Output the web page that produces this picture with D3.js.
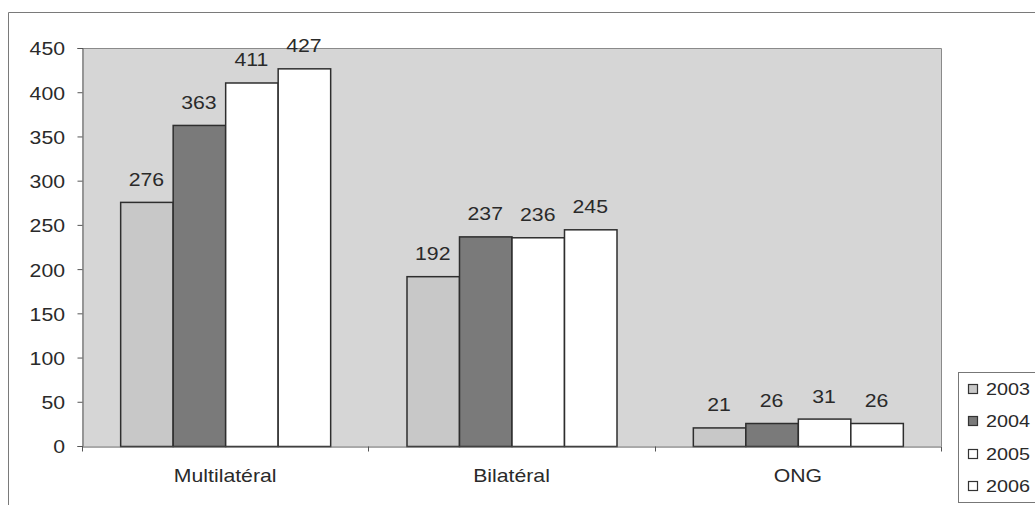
<!DOCTYPE html>
<html>
<head>
<meta charset="utf-8">
<script src="https://cdn.jsdelivr.net/npm/d3@7"></script>
<style>
  html, body { margin: 0; padding: 0; background: #fff; }
  svg { display: block; font-family: "Liberation Sans", Arial, sans-serif; }
</style>
</head>
<body>
<svg id="chart" width="1035" height="505"></svg>
<script>
// Aid channels and yearly amounts
const categories = ["Multilatéral", "Bilatéral", "ONG"];
const years = ["2003", "2004", "2005", "2006"];
const values2003 = [276, 192, 21];
const values2004 = [363, 237, 26];
const values2005 = [411, 236, 31];
const values2006 = [427, 245, 26];
const yTicks = [0, 50, 100, 150, 200, 250, 300, 350, 400, 450];

const seriesValues = [values2003, values2004, values2005, values2006];
const fills = ["#c8c8c8", "#7a7a7a", "#ffffff", "#ffffff"];

const svg = d3.select("#chart");
const plot = { left: 82, right: 941, top: 48, bottom: 446 };
const sx = 1.18; // horizontal stretch of the lettering

// outer frame (top and left edges)
svg.append("path")
  .attr("d", "M8.5,505 L8.5,12.5 L1035,12.5")
  .attr("fill", "none").attr("stroke", "#7a7a7a").attr("stroke-width", 1);

const x0 = d3.scaleBand().domain(categories).range([plot.left, plot.right]).paddingInner(0).paddingOuter(0);
const groupW = 210;
const x1 = d3.scaleBand().domain(years).range([0, groupW]).padding(0);
const y = d3.scaleLinear().domain([0, 450]).range([plot.bottom, plot.top]);

// plot area background
svg.append("rect")
  .attr("x", plot.left).attr("y", plot.top)
  .attr("width", plot.right - plot.left).attr("height", plot.bottom - plot.top)
  .attr("fill", "#d6d6d6");
svg.append("path")
  .attr("d", `M${plot.left},${plot.top + 0.5} L${plot.right + 0.5},${plot.top + 0.5} L${plot.right + 0.5},${plot.bottom}`)
  .attr("fill", "none").attr("stroke", "#8a8a8a");

// bars
const bars = [];
categories.forEach((c, ci) => {
  years.forEach((yr, si) => {
    bars.push({ cat: c, year: yr, si, v: seriesValues[si][ci] });
  });
});
const gx = c => x0(c) + (x0.bandwidth() - groupW) / 2;

svg.append("g").selectAll("rect").data(bars).join("rect")
  .attr("x", d => gx(d.cat) + x1(d.year) + 0.5)
  .attr("y", d => y(d.v) + 0.5)
  .attr("width", x1.bandwidth())
  .attr("height", d => y(0) - y(d.v))
  .attr("fill", d => fills[d.si])
  .attr("stroke", "#2e2e2e").attr("stroke-width", 1.5);

// value labels
const stretchedText = (sel, size) => sel
  .attr("font-size", size)
  .attr("fill", "#2a2a2a");

stretchedText(svg.append("g").selectAll("text").data(bars).join("text"), 18)
  .attr("text-anchor", "middle")
  .attr("transform", d => `translate(${gx(d.cat) + x1(d.year) + x1.bandwidth() / 2},${y(d.v) - 16}) scale(${sx},1)`)
  .text(d => d.v);

// y axis
const yAxis = svg.append("g").attr("transform", `translate(${plot.left + 0.5},0)`)
  .call(d3.axisLeft(y).tickValues(yTicks).tickSize(5).tickPadding(0).tickFormat(() => ""));
yAxis.select(".domain").attr("stroke", "#555");
yAxis.selectAll(".tick line").attr("stroke", "#555");
stretchedText(svg.append("g").selectAll("text").data(yTicks).join("text"), 18)
  .attr("text-anchor", "end")
  .attr("dominant-baseline", "central")
  .attr("transform", d => `translate(65,${y(d) + 1}) scale(${sx},1)`)
  .text(d => d);

// x axis
const xAxis = svg.append("g").attr("transform", `translate(0,${plot.bottom + 0.5})`)
  .call(d3.axisBottom(x0).tickSize(0).tickFormat(() => ""));
xAxis.select(".domain").attr("stroke", "#555");
xAxis.selectAll(".tick line").remove();
const bounds = categories.map(c => x0(c)).concat([plot.right]);
xAxis.selectAll("line.sep").data(bounds).join("line").attr("class", "sep")
  .attr("x1", d => Math.round(d) + 0.5).attr("x2", d => Math.round(d) + 0.5)
  .attr("y1", 0).attr("y2", 5).attr("stroke", "#555");
stretchedText(svg.append("g").selectAll("text").data(categories).join("text"), 18)
  .attr("text-anchor", "middle")
  .attr("transform", d => `translate(${x0(d) + x0.bandwidth() / 2},482) scale(${sx},1)`)
  .text(d => d);

// legend
const legend = svg.append("g");
legend.append("rect")
  .attr("x", 958.5).attr("y", 372.5).attr("width", 90).attr("height", 130)
  .attr("fill", "#fff").attr("stroke", "#777");
const legendY = [389, 421, 454, 486];
years.forEach((yr, i) => {
  legend.append("rect")
    .attr("x", 968.5).attr("y", legendY[i] - 4.5).attr("width", 9).attr("height", 9)
    .attr("fill", fills[i]).attr("stroke", "#333").attr("stroke-width", 1.2);
  stretchedText(legend.append("text"), 16.5)
    .attr("dominant-baseline", "central")
    .attr("transform", `translate(986,${legendY[i] + 1}) scale(1.2,1)`)
    .text(yr);
});
</script>
</body>
</html>
